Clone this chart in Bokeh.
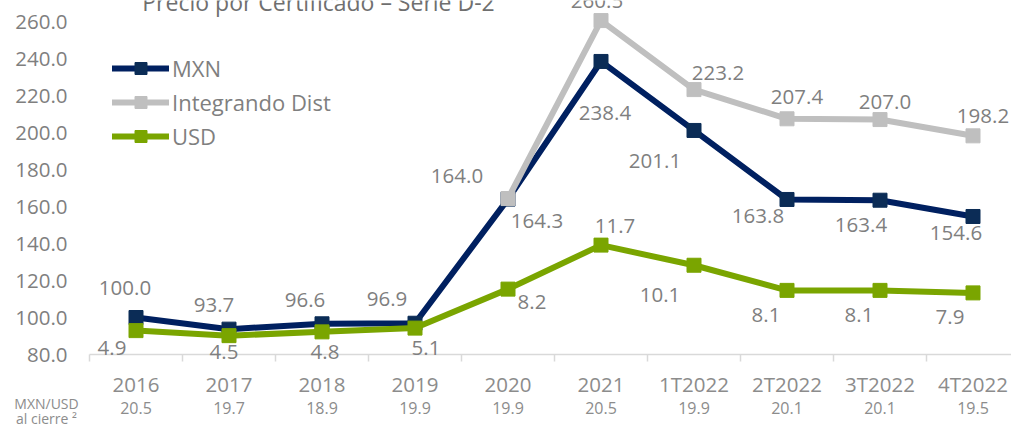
from bokeh.plotting import figure
from bokeh.models import (Range1d, LinearAxis, FixedTicker, ColumnDataSource, LabelSet,
                          Label, Legend, LegendItem, NumeralTickFormatter)
from bokeh.core.properties import value
from bokeh.embed import file_html
from bokeh.resources import INLINE

# ---------------- data ----------------
categories = ["2016", "2017", "2018", "2019", "2020", "2021",
              "1T2022", "2T2022", "3T2022", "4T2022"]
mxn = [100.0, 93.7, 96.6, 96.9, 164.0, 238.4, 201.1, 163.8, 163.4, 154.6]
integrando = [None, None, None, None, 164.3, 260.5, 223.2, 207.4, 207.0, 198.2]
usd = [4.9, 4.5, 4.8, 5.1, 8.2, 11.7, 10.1, 8.1, 8.1, 7.9]
fx_close = [20.5, 19.7, 18.9, 19.9, 19.9, 20.5, 19.9, 20.1, 20.1, 19.5]
y_ticks = [80, 100, 120, 140, 160, 180, 200, 220, 240, 260]
row_caption = ["MXN/USD", "al cierre ²"]

# label offsets in pixels (dx right, dy down)
mxn_off = [(-11, -30), (-15, -24), (-17, -24), (-28, -24), (-51, -23),
           (4, 52), (-39, 31), (-29, 17), (-19, 25), (-17, 17)]
int_off = [None, None, None, None, (29, 22), (-4, -20), (24, -17), (10, -22), (5, -18), (10, -20)]
usd_off = [(-24, 17), (-5, 16), (3, 20), (11, 20), (24, 13),
           (14, -19), (-34, 30), (-21, 25), (-21, 25), (-23, 24)]

NAVY = "#002060"
NAVY_M = "#0B2C56"
GRAY = "#BFBFBF"
GREEN = "#7AA500"
TXT = "#7F7F7F"
TXT_LIGHT = "#8C8C8C"
FONT = "Open Sans"

xs = list(range(len(categories)))

# geometry: plot area spans the whole canvas; axes are pinned inside it
W, H = 1011, 424
PX_X = 93.0          # pixels per category
PX_Y = 1.85          # pixels per unit (primary axis)
AX_LEFT = 89         # where the category axis starts
AX_BOTTOM = 354      # pixel row of the value 80
X0 = -0.5 - AX_LEFT / PX_X
X1 = -0.5 + (W - AX_LEFT) / PX_X
Y1 = 80 + AX_BOTTOM / PX_Y
Y0 = 80 - (H - AX_BOTTOM) / PX_Y
USD_SLOPE, USD_AT80 = 6.796, 3.0

p = figure(width=W, height=H, output_backend="svg", toolbar_location=None,
           x_range=Range1d(X0, X1), y_range=Range1d(Y0, Y1),
           x_axis_type=None, y_axis_type=None, min_border=0)
p.outline_line_color = None
p.background_fill_color = "white"
p.border_fill_color = "white"
p.extra_y_ranges = {"usd": Range1d(USD_AT80 + (Y0 - 80) / USD_SLOPE, USD_AT80 + (Y1 - 80) / USD_SLOPE)}

# axes
yaxis = LinearAxis(ticker=FixedTicker(ticks=y_ticks), fixed_location=-0.5,
                   formatter=NumeralTickFormatter(format="0.0"),
                   axis_line_color=None, major_tick_line_color=None, minor_tick_line_color=None,
                   major_tick_out=0, major_tick_in=0, minor_tick_out=0, minor_tick_in=0,
                   major_label_standoff=22,
                   major_label_text_font=FONT, major_label_text_font_size="20.5px",
                   major_label_text_color=TXT)
p.add_layout(yaxis, "left")

xaxis = LinearAxis(ticker=FixedTicker(ticks=xs, minor_ticks=[i - 0.5 for i in range(len(xs) + 1)]),
                   fixed_location=80, bounds=(-0.5, X1),
                   major_label_overrides={i: c for i, c in enumerate(categories)},
                   axis_line_color="#D9D9D9", axis_line_width=1.5,
                   major_tick_line_color=None, major_tick_out=0, major_tick_in=0,
                   minor_tick_line_color="#D9D9D9", minor_tick_line_width=1.5,
                   minor_tick_out=7, minor_tick_in=0,
                   major_label_standoff=8,
                   major_label_text_font=FONT, major_label_text_font_size="20.5px",
                   major_label_text_color=TXT_LIGHT)
p.add_layout(xaxis, "below")

fxaxis = LinearAxis(ticker=FixedTicker(ticks=xs), fixed_location=80, bounds=(-0.5, X1),
                    major_label_overrides={i: f"{v:.1f}" for i, v in enumerate(fx_close)},
                    axis_line_color=None, major_tick_line_color=None, minor_tick_line_color=None,
                    major_tick_out=0, major_tick_in=0, minor_tick_out=0, minor_tick_in=0,
                    major_label_standoff=47,
                    major_label_text_font=FONT, major_label_text_font_size="16px",
                    major_label_text_color=TXT_LIGHT)
p.add_layout(fxaxis, "below")

# series
src_m = ColumnDataSource(dict(x=xs, y=mxn))
gi = [i for i, v in enumerate(integrando) if v is not None]
src_g = ColumnDataSource(dict(x=[xs[i] for i in gi], y=[integrando[i] for i in gi]))
src_u = ColumnDataSource(dict(x=xs, y=usd))

l1 = p.line("x", "y", source=src_m, line_color=NAVY, line_width=6, line_join="round", line_cap="round")
s1 = p.scatter("x", "y", source=src_m, marker="square", size=14, fill_color=NAVY_M, line_color=NAVY_M)
l2 = p.line("x", "y", source=src_g, line_color=GRAY, line_width=6, line_join="round", line_cap="round")
s2 = p.scatter("x", "y", source=src_g, marker="square", size=14, fill_color=GRAY, line_color=GRAY)
l3 = p.line("x", "y", source=src_u, y_range_name="usd", line_color=GREEN, line_width=6,
            line_join="round", line_cap="round")
s3 = p.scatter("x", "y", source=src_u, y_range_name="usd", marker="square", size=14,
               fill_color=GREEN, line_color=GREEN)

# data labels
def label_source(vals, offs):
    d = dict(x=[], y=[], t=[], dx=[], dy=[])
    for i, v in enumerate(vals):
        if v is None:
            continue
        d["x"].append(xs[i]); d["y"].append(v); d["t"].append(f"{v:.1f}")
        d["dx"].append(offs[i][0]); d["dy"].append(-offs[i][1])
    return ColumnDataSource(d)

for vals, offs, rng in [(mxn, mxn_off, "default"), (integrando, int_off, "default"), (usd, usd_off, "usd")]:
    ls = LabelSet(x="x", y="y", text="t", x_offset="dx", y_offset="dy", source=label_source(vals, offs),
                  y_range_name=rng, text_align="center", text_baseline="middle",
                  text_font=value(FONT), text_font_size=value("20.5px"), text_color=TXT)
    p.add_layout(ls)

# legend
legend = Legend(items=[LegendItem(label="MXN", renderers=[l1, s1]),
                       LegendItem(label="Integrando Dist", renderers=[l2, s2]),
                       LegendItem(label="USD", renderers=[l3, s3])],
                location=(112, 273), orientation="vertical", padding=0, margin=0, spacing=4,
                glyph_width=57, glyph_height=30, label_height=30, label_standoff=3,
                label_text_font=FONT, label_text_font_size="22px", label_text_color=TXT,
                border_line_color=None, background_fill_alpha=0)
p.add_layout(legend)

# title (cut at top like the reference)
p.add_layout(Label(x=318, y=423, x_units="screen", y_units="screen",
                   text="Precio por Certificado – Serie D-2", text_align="center",
                   text_baseline="alphabetic", text_font=FONT, text_font_size="23px",
                   text_color="#6F6F6F"))

# row caption for the exchange-rate row (left of the category axis)
cap_x = -0.5 - 43 / PX_X
cap_src = ColumnDataSource(dict(x=[cap_x, cap_x], y=[80 - 49 / PX_Y, 80 - 64 / PX_Y], t=row_caption))
p.add_layout(LabelSet(x="x", y="y", text="t", source=cap_src, text_align="center",
                      text_baseline="middle", text_font=value(FONT), text_font_size=value("14px"),
                      text_color=TXT_LIGHT))

open("out.html", "w").write(file_html(p, INLINE))
